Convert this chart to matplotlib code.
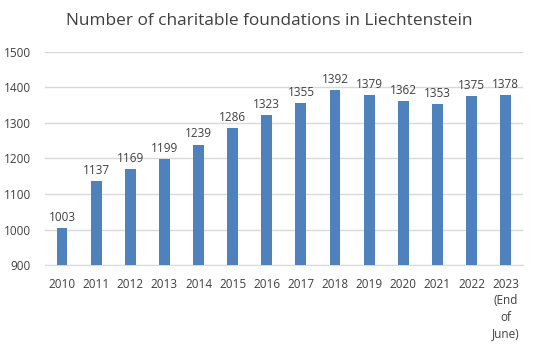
import matplotlib
matplotlib.use("Agg")
import matplotlib.pyplot as plt
import numpy as np

plt.rcParams['font.family'] = ['Open Sans', 'DejaVu Sans']

years = ['2010', '2011', '2012', '2013', '2014', '2015', '2016',
         '2017', '2018', '2019', '2020', '2021', '2022', '2023\n(End\nof\nJune)']
counts = [1003, 1137, 1169, 1199, 1239, 1286, 1323,
          1355, 1392, 1379, 1362, 1353, 1375, 1378]

fig = plt.figure(figsize=(5.38, 3.46), dpi=100)
ax = fig.add_axes([0.0836, 0.234, 0.888, 0.616])

x = np.arange(len(years))
ax.bar(x, counts, width=0.32, color='#4F81BD', zorder=3)

for xi, v in zip(x, counts):
    ax.text(xi, v + 12, str(v), ha='center', va='bottom', fontsize=8.5, color='#404040')

ax.set_ylim(900, 1500)
ax.set_yticks(range(900, 1501, 100))
ax.set_xlim(-0.5, len(years) - 0.5)
ax.set_xticks(x)
ax.set_xticklabels(years, va='top', linespacing=1.35)
ax.tick_params(axis='both', length=0, labelsize=8.5, colors='#404040')
ax.tick_params(axis='x', pad=9)
ax.tick_params(axis='y', pad=10)
ax.grid(axis='y', color='#D9D9D9', linewidth=1, zorder=0)
for s in ['top', 'right', 'left']:
    ax.spines[s].set_visible(False)
ax.spines['bottom'].set_color('#D9D9D9')

fig.text(0.5, 0.94, 'Number of charitable foundations in Liechtenstein',
         ha='center', va='center', fontsize=12.4, color='#404040')

fig.savefig('out.png', dpi=100)
